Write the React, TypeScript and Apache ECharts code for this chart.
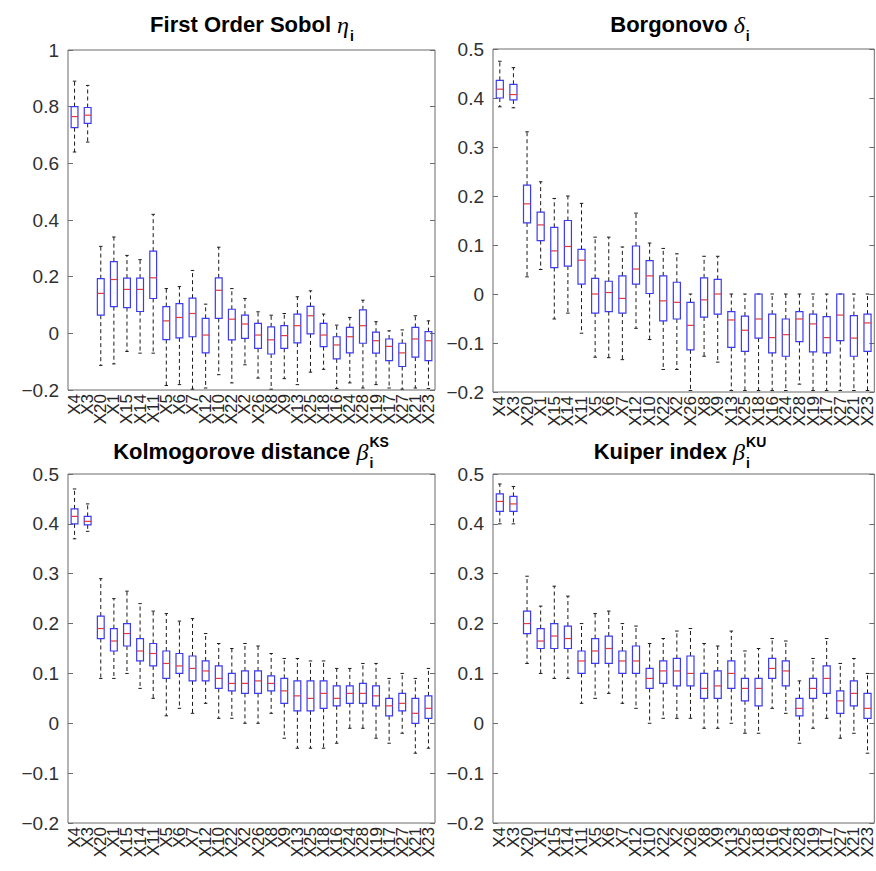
import React, { useEffect, useRef } from 'react';
import * as echarts from 'echarts';

const categories = ['X4','X3','X20','X1','X15','X14','X11','X5','X6','X7','X12','X10','X22','X2','X26','X8','X9','X13','X25','X18','X16','X24','X28','X19','X17','X27','X21','X23'];

// each row: [lower whisker, q1, median, q3, upper whisker]
const sobolStats = [
  [0.64, 0.726, 0.765, 0.80, 0.89],
  [0.675, 0.741, 0.77, 0.797, 0.875],
  [-0.113, 0.064, 0.141, 0.193, 0.307],
  [-0.108, 0.094, 0.19, 0.253, 0.34],
  [-0.064, 0.091, 0.155, 0.195, 0.275],
  [-0.07, 0.077, 0.155, 0.195, 0.26],
  [-0.07, 0.123, 0.196, 0.29, 0.42],
  [-0.184, -0.022, 0.044, 0.094, 0.158],
  [-0.181, -0.016, 0.056, 0.105, 0.165],
  [-0.197, -0.012, 0.07, 0.124, 0.222],
  [-0.193, -0.069, -0.006, 0.053, 0.103],
  [-0.146, 0.053, 0.152, 0.196, 0.304],
  [-0.175, -0.023, 0.05, 0.085, 0.158],
  [-0.111, -0.018, 0.033, 0.064, 0.123],
  [-0.158, -0.053, -0.006, 0.035, 0.076],
  [-0.197, -0.073, -0.023, 0.023, 0.064],
  [-0.16, -0.053, -0.008, 0.027, 0.07],
  [-0.181, -0.034, 0.027, 0.068, 0.129],
  [-0.137, -0.002, 0.062, 0.095, 0.15],
  [-0.127, -0.047, -0.006, 0.035, 0.068],
  [-0.195, -0.09, -0.041, -0.012, 0.029],
  [-0.175, -0.069, -0.012, 0.021, 0.056],
  [-0.193, -0.035, 0.027, 0.083, 0.117],
  [-0.181, -0.07, -0.026, 0.004, 0.041],
  [-0.193, -0.096, -0.046, -0.02, 0.009],
  [-0.197, -0.117, -0.069, -0.035, 0.012],
  [-0.193, -0.084, -0.02, 0.021, 0.062],
  [-0.195, -0.096, -0.026, 0.006, 0.044],
];

const borgonovoStats = [
  [0.382, 0.4, 0.418, 0.436, 0.475],
  [0.38, 0.396, 0.407, 0.428, 0.462],
  [0.035, 0.145, 0.184, 0.222, 0.331],
  [0.05, 0.109, 0.141, 0.167, 0.229],
  [-0.051, 0.054, 0.088, 0.136, 0.195],
  [-0.039, 0.057, 0.097, 0.15, 0.2],
  [-0.08, 0.02, 0.069, 0.091, 0.185],
  [-0.129, -0.039, 0, 0.032, 0.116],
  [-0.13, -0.036, 0.003, 0.026, 0.116],
  [-0.134, -0.039, -0.009, 0.037, 0.096],
  [-0.07, 0.02, 0.051, 0.098, 0.165],
  [-0.093, 0.001, 0.037, 0.068, 0.104],
  [-0.154, -0.055, -0.014, 0.037, 0.093],
  [-0.154, -0.051, -0.017, 0.024, 0.082],
  [-0.197, -0.114, -0.064, -0.017, 0],
  [-0.127, -0.047, -0.012, 0.033, 0.077],
  [-0.139, -0.041, 0, 0.03, 0.077],
  [-0.197, -0.109, -0.053, -0.036, 0],
  [-0.197, -0.117, -0.074, -0.045, 0],
  [-0.197, -0.09, -0.051, 0, 0],
  [-0.197, -0.12, -0.089, -0.041, 0],
  [-0.197, -0.127, -0.083, -0.051, 0],
  [-0.184, -0.097, -0.051, -0.036, 0],
  [-0.197, -0.118, -0.061, -0.041, 0],
  [-0.197, -0.12, -0.089, -0.046, 0],
  [-0.197, -0.095, -0.043, 0, 0],
  [-0.197, -0.127, -0.09, -0.044, 0],
  [-0.197, -0.117, -0.059, -0.041, 0],
];

const ksStats = [
  [0.37, 0.40, 0.415, 0.43, 0.47],
  [0.385, 0.398, 0.405, 0.415, 0.44],
  [0.09, 0.17, 0.19, 0.215, 0.29],
  [0.09, 0.145, 0.165, 0.19, 0.25],
  [0.10, 0.155, 0.18, 0.20, 0.265],
  [0.07, 0.125, 0.145, 0.17, 0.24],
  [0.05, 0.115, 0.14, 0.16, 0.225],
  [0.015, 0.09, 0.12, 0.145, 0.22],
  [0.03, 0.10, 0.115, 0.14, 0.205],
  [0.02, 0.085, 0.11, 0.135, 0.21],
  [0.04, 0.085, 0.105, 0.125, 0.18],
  [0.01, 0.07, 0.09, 0.115, 0.16],
  [0.01, 0.065, 0.08, 0.10, 0.15],
  [0.0, 0.06, 0.08, 0.105, 0.16],
  [0.0, 0.06, 0.085, 0.105, 0.155],
  [0.02, 0.065, 0.08, 0.095, 0.14],
  [-0.03, 0.04, 0.065, 0.09, 0.13],
  [-0.05, 0.025, 0.055, 0.085, 0.13],
  [-0.05, 0.025, 0.05, 0.085, 0.125],
  [-0.05, 0.03, 0.06, 0.085, 0.125],
  [-0.04, 0.035, 0.05, 0.075, 0.11],
  [-0.01, 0.04, 0.06, 0.075, 0.11],
  [-0.01, 0.04, 0.06, 0.08, 0.12],
  [-0.03, 0.035, 0.055, 0.075, 0.12],
  [-0.04, 0.015, 0.035, 0.05, 0.09],
  [-0.02, 0.025, 0.04, 0.06, 0.10],
  [-0.06, 0.0, 0.02, 0.05, 0.09],
  [-0.05, 0.01, 0.03, 0.055, 0.11],
];

const kuStats = [
  [0.40, 0.425, 0.445, 0.46, 0.48],
  [0.40, 0.425, 0.44, 0.455, 0.475],
  [0.12, 0.18, 0.20, 0.225, 0.295],
  [0.10, 0.15, 0.165, 0.19, 0.235],
  [0.09, 0.15, 0.175, 0.20, 0.275],
  [0.09, 0.15, 0.17, 0.195, 0.255],
  [0.04, 0.10, 0.125, 0.145, 0.20],
  [0.05, 0.12, 0.145, 0.17, 0.22],
  [0.06, 0.12, 0.15, 0.175, 0.225],
  [0.04, 0.10, 0.125, 0.145, 0.20],
  [0.03, 0.10, 0.125, 0.155, 0.195],
  [0.0, 0.07, 0.09, 0.11, 0.16],
  [0.01, 0.08, 0.105, 0.125, 0.17],
  [0.01, 0.075, 0.105, 0.13, 0.185],
  [0.01, 0.075, 0.10, 0.135, 0.19],
  [-0.01, 0.05, 0.07, 0.10, 0.16],
  [-0.01, 0.05, 0.075, 0.105, 0.155],
  [0.0, 0.07, 0.10, 0.125, 0.185],
  [-0.02, 0.045, 0.07, 0.09, 0.145],
  [-0.02, 0.035, 0.07, 0.09, 0.15],
  [0.03, 0.09, 0.11, 0.13, 0.17],
  [0.02, 0.075, 0.105, 0.125, 0.165],
  [-0.04, 0.015, 0.03, 0.05, 0.085],
  [-0.01, 0.05, 0.07, 0.09, 0.13],
  [0.01, 0.06, 0.09, 0.115, 0.17],
  [-0.03, 0.02, 0.045, 0.065, 0.12],
  [-0.02, 0.035, 0.06, 0.085, 0.13],
  [-0.06, 0.01, 0.03, 0.06, 0.10],
];

const titleMain = ['First Order Sobol ', 'Borgonovo ', 'Kolmogorove distance ', 'Kuiper index '];
const titleGreek = ['η', 'δ', 'β', 'β'];
const titleSup = ['', '', 'KS', 'KU'];
const titleSub = ['i', 'i', 'i', 'i'];

const yMin = [-0.2, -0.2, -0.2, -0.2];
const yMax = [1, 0.5, 0.5, 0.5];
const yStep = [0.2, 0.1, 0.1, 0.1];

const grids = [
  { left: 68, top: 50, width: 367, height: 340 },
  { left: 493, top: 49, width: 382, height: 343 },
  { left: 68, top: 474, width: 367, height: 349 },
  { left: 493, top: 474, width: 382, height: 349 },
];
const titleCenters = [252, 680, 251, 680];
const titleBaselines = [32, 32, 459, 459];

const SANS = '"Liberation Sans", Arial, Helvetica, sans-serif';
const SERIF = '"Liberation Serif", "Times New Roman", serif';

function measure(text: string, font: string): number {
  const ctx = document.createElement('canvas').getContext('2d');
  if (!ctx) return text.length * 10;
  ctx.font = font;
  return ctx.measureText(text).width;
}

function fmt(v: number): string {
  const r = Math.round(v * 10) / 10;
  let s = String(r);
  if (r === 0) s = '0';
  return s.replace('-', '\u2212');
}

function renderBox(params: any, api: any) {
  const i = api.value(0);
  const lo = api.coord([i, api.value(1)]);
  const q1 = api.coord([i, api.value(2)]);
  const md = api.coord([i, api.value(3)]);
  const q3 = api.coord([i, api.value(4)]);
  const hi = api.coord([i, api.value(5)]);
  const band = api.size([1, 0])[0];
  const bw = band * 0.52;
  const cw = bw * 0.5;
  const x = lo[0];
  const whisk = { stroke: '#1a1a1a', lineWidth: 1, lineDash: [4, 3] };
  const cap = { stroke: '#1a1a1a', lineWidth: 1 };
  return {
    type: 'group',
    children: [
      { type: 'line', shape: { x1: x, y1: q3[1], x2: x, y2: hi[1] }, style: whisk },
      { type: 'line', shape: { x1: x, y1: q1[1], x2: x, y2: lo[1] }, style: whisk },
      { type: 'line', shape: { x1: x - cw / 2, y1: hi[1], x2: x + cw / 2, y2: hi[1] }, style: cap },
      { type: 'line', shape: { x1: x - cw / 2, y1: lo[1], x2: x + cw / 2, y2: lo[1] }, style: cap },
      { type: 'rect', shape: { x: x - bw / 2, y: q3[1], width: bw, height: q1[1] - q3[1] }, style: { fill: 'none', stroke: '#3b3bf2', lineWidth: 1.2 } },
      { type: 'line', shape: { x1: x - bw / 2, y1: md[1], x2: x + bw / 2, y2: md[1] }, style: { stroke: '#e23a3a', lineWidth: 1.2 } },
    ],
  };
}

export default function App() {
  const ref = useRef<HTMLDivElement>(null);
  useEffect(() => {
    if (!ref.current) return;
    const chart = echarts.init(ref.current, undefined, { renderer: 'svg' });
    const allStats = [sobolStats, borgonovoStats, ksStats, kuStats];

    const mainFont = `bold 22px ${SANS}`;
    const greekFont = `italic 24px ${SERIF}`;
    const scriptFont = `bold 14px ${SANS}`;
    const graphic: any[] = [];
    for (let p = 0; p < 4; p++) {
      const wMain = measure(titleMain[p], mainFont);
      const wGreek = measure(titleGreek[p], greekFont);
      const wScript = Math.max(measure(titleSup[p], scriptFont), measure(titleSub[p], scriptFont));
      const total = wMain + wGreek + 1 + wScript;
      const x0 = titleCenters[p] - total / 2;
      const b = titleBaselines[p];
      graphic.push({ type: 'text', x: x0, y: b - 22 * 0.35, style: { text: titleMain[p], font: mainFont, fill: '#000', align: 'left', verticalAlign: 'middle', textAlign: 'left', textVerticalAlign: 'middle' } });
      graphic.push({ type: 'text', x: x0 + wMain, y: b - 24 * 0.3, style: { text: titleGreek[p], font: greekFont, fill: '#000', align: 'left', verticalAlign: 'middle', textAlign: 'left', textVerticalAlign: 'middle' } });
      graphic.push({ type: 'text', x: x0 + wMain + wGreek + 1, y: b + 9 - 14 * 0.35, style: { text: titleSub[p], font: scriptFont, fill: '#000', align: 'left', verticalAlign: 'middle', textAlign: 'left', textVerticalAlign: 'middle' } });
      if (titleSup[p]) {
        graphic.push({ type: 'text', x: x0 + wMain + wGreek + 1, y: b - 12 - 14 * 0.35, style: { text: titleSup[p], font: scriptFont, fill: '#000', align: 'left', verticalAlign: 'middle', textAlign: 'left', textVerticalAlign: 'middle' } });
      }
    }

    const option: any = {
      animation: false,
      backgroundColor: '#fff',
      graphic,
      grid: grids.map((g) => ({ ...g, show: true, borderColor: '#6b6b6b', borderWidth: 1, backgroundColor: 'transparent', containLabel: false })),
      xAxis: grids.map((_, p) => ({
        type: 'category',
        gridIndex: p,
        data: categories,
        boundaryGap: true,
        axisLine: { show: false },
        axisTick: { show: false },
        splitLine: { show: false },
        axisLabel: { interval: 0, rotate: 90, fontSize: 17, fontFamily: SANS, color: '#262626', margin: 4 },
      })),
      yAxis: [
        ...grids.map((_, p) => ({
          type: 'value',
          gridIndex: p,
          position: 'left',
          min: yMin[p],
          max: yMax[p],
          interval: yStep[p],
          axisLine: { show: false },
          axisTick: { show: true, inside: true, length: 5, lineStyle: { color: '#6b6b6b' } },
          splitLine: { show: false },
          axisLabel: { fontSize: 19, fontFamily: SANS, color: '#303030', margin: 9, formatter: (v: number) => fmt(v) },
        })),
        ...grids.map((_, p) => ({
          type: 'value',
          gridIndex: p,
          position: 'right',
          min: yMin[p],
          max: yMax[p],
          interval: yStep[p],
          axisLine: { show: false },
          axisTick: { show: true, inside: true, length: 5, lineStyle: { color: '#6b6b6b' } },
          splitLine: { show: false },
          axisLabel: { show: false },
        })),
      ],
      series: allStats.map((stats, p) => ({
        type: 'custom',
        xAxisIndex: p,
        yAxisIndex: p,
        clip: true,
        renderItem: renderBox,
        encode: { x: 0, y: [1, 2, 3, 4, 5] },
        data: stats.map((s, i) => [i, ...s]),
      })),
    };
    chart.setOption(option);
    return () => chart.dispose();
  }, []);
  return <div ref={ref} style={{ position: 'fixed', left: 0, top: 0, width: 876, height: 871, background: '#fff' }} />;
}
